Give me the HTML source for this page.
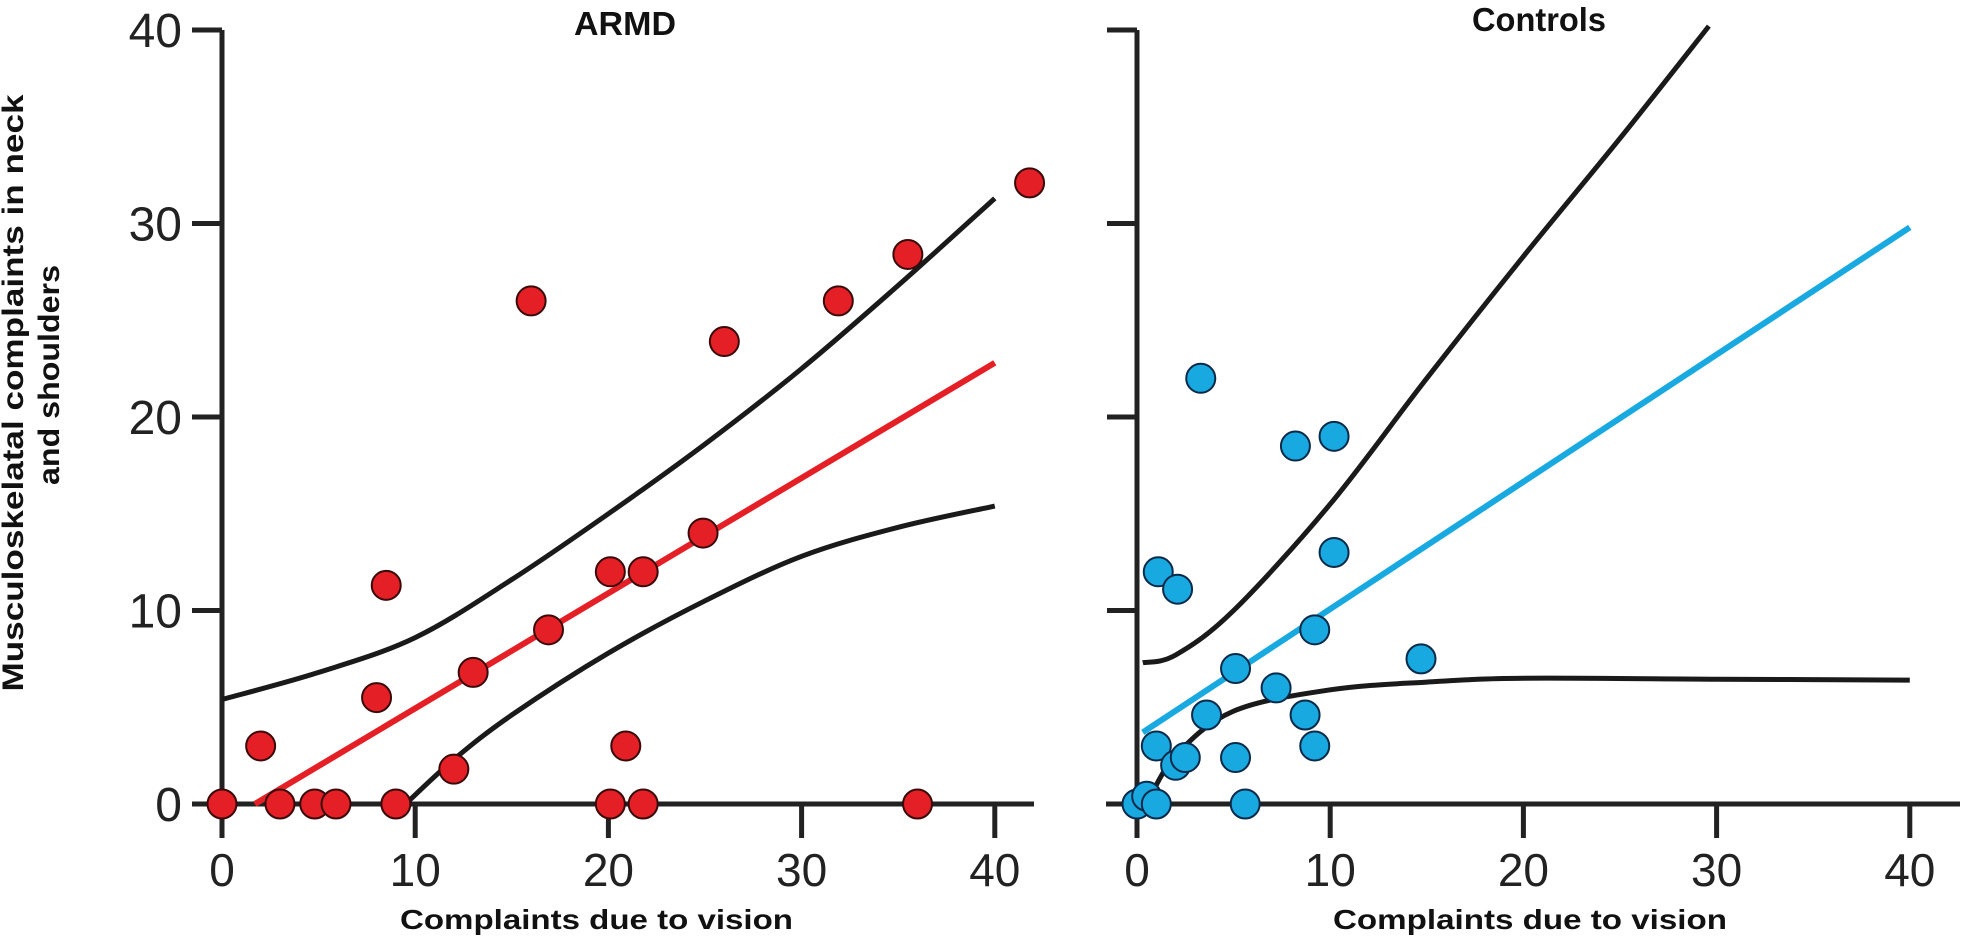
<!DOCTYPE html>
<html><head><meta charset="utf-8"><style>
html,body{margin:0;padding:0;background:#fff;}
svg{display:block;}
</style></head><body>
<svg id="chart" width="1970" height="937" viewBox="0 0 1970 937" xmlns="http://www.w3.org/2000/svg" font-family="'Liberation Sans', sans-serif">
<g font-weight="bold" font-size="30" fill="#111" text-anchor="middle">
<text transform="translate(23,393) rotate(-90)" textLength="597" lengthAdjust="spacingAndGlyphs">Musculoskelatal complaints in neck</text>
<text transform="translate(59,375) rotate(-90)" textLength="220" lengthAdjust="spacingAndGlyphs">and shoulders</text>
</g>
<g id="left"></g>
<g id="right"></g>
</svg>
<script>
// ARMD data
const armdX = [0,2,3,4.8,5.9,8,8.5,9,12,13,16,16.9,20.1,20.1,20.9,21.8,21.8,24.9,26,31.9,35.5,36,41.8];
const armdY = [0,3,0,0,0,5.5,11.3,0,1.8,6.8,26,9,12,0,3,12,0,14,23.9,26,28.4,0,32.1];
const armdFitX = [1.7,40];
const armdFitY = [0,22.8];
const armdUpperX = [0,5,10,15,20,25,30,35,40];
const armdUpperY = [5.4,6.8,8.6,11.6,15,18.6,22.5,26.8,31.3];
const armdLowerX = [9.5,12,15,20,25,30,35,40];
const armdLowerY = [0,2.3,4.6,7.8,10.5,12.8,14.3,15.4];
// Controls data
const ctrlX = [0,0.5,1,1,1.1,2.1,2,2.5,3.3,3.6,5.1,5.1,5.6,7.2,8.2,8.7,9.2,9.2,10.2,10.2,14.7];
const ctrlY = [0,0.4,0,3,12,11.1,2,2.4,22,4.6,7,2.4,0,6,18.5,4.6,3,9,13,19,7.5];
const ctrlFitX = [0.3,40];
const ctrlFitY = [3.7,29.8];
const ctrlUpperX = [0.3,2,5,10,15,20,25,29.6];
const ctrlUpperY = [7.3,7.7,10,15.5,22,28.3,34.4,40.2];
const ctrlLowerX = [0.5,2,5,10,15,20,30,40];
const ctrlLowerY = [0,2.5,4.8,5.9,6.3,6.5,6.45,6.4];
const xTicks = [0,10,20,30,40];
const yTicks = [0,10,20,30,40];

const NS='http://www.w3.org/2000/svg';
function mk(tag,attrs,parent){const e=document.createElementNS(NS,tag);for(const k in attrs)e.setAttribute(k,attrs[k]);parent.appendChild(e);return e;}
function smooth(pts){let d='M'+pts[0][0]+','+pts[0][1];for(let i=0;i<pts.length-1;i++){const p0=pts[i-1]||pts[i],p1=pts[i],p2=pts[i+1],p3=pts[i+2]||p2;const c1=[p1[0]+(p2[0]-p0[0])/6,p1[1]+(p2[1]-p0[1])/6],c2=[p2[0]-(p3[0]-p1[0])/6,p2[1]-(p3[1]-p1[1])/6];d+=' C'+c1+' '+c2+' '+p2;}return d;}

function panel(g,x0,name,title,titleX,titleW,titleY,xs,ys,fx,fy,ux,uy,lx,ly,color,stroke,xtX,xtW,axisStart,axisEnd){
  const sx=v=>x0+v*19.32, sy=v=>804-v*19.35;
  // axes
  let e=mk('line',{x1:x0,y1:30,x2:x0,y2:838,stroke:'#222','stroke-width':5},g);
  
  
  e=mk('line',{x1:axisStart,y1:804,x2:axisEnd,y2:804,stroke:'#222','stroke-width':5},g);
  
  
  yTicks.forEach(v=>{
    const t=mk('line',{x1:x0-30,y1:sy(v),x2:x0,y2:sy(v),stroke:'#222','stroke-width':5},g);
    
    
    if(name==='armd'){
      const l=mk('text',{x:x0-40,y:sy(v)+17,'font-size':48,'text-anchor':'end',fill:'#222'},g);l.textContent=v;
      
      
    }
  });
  xTicks.forEach(v=>{
    const t=mk('line',{x1:sx(v),y1:804,x2:sx(v),y2:838,stroke:'#222','stroke-width':5},g);
    
    
    const l=mk('text',{x:sx(v),y:886,'font-size':46,'text-anchor':'middle',fill:'#222'},g);l.textContent=v;
    
    
  });
  e=mk('text',{x:xtX,y:929,'font-size':28,'font-weight':'bold',fill:'#111',textLength:xtW,lengthAdjust:'spacingAndGlyphs'},g);e.textContent='Complaints due to vision';
  
  
  e=mk('text',{x:titleX,y:titleY,'font-size':33,'font-weight':'bold',fill:'#111',textLength:titleW,lengthAdjust:'spacingAndGlyphs'},g);e.textContent=title;
  
  
  // CI curves
  e=mk('path',{d:smooth(ux.map((v,i)=>[sx(v),sy(uy[i])])),fill:'none',stroke:'#1a1a1a','stroke-width':5},g);
  
  
  e=mk('path',{d:smooth(lx.map((v,i)=>[sx(v),sy(ly[i])])),fill:'none',stroke:'#1a1a1a','stroke-width':5},g);
  
  
  e=mk('line',{x1:sx(fx[0]),y1:sy(fy[0]),x2:sx(fx[1]),y2:sy(fy[1]),stroke:color,'stroke-width':6},g);
  
  
  xs.forEach((v,i)=>{
    const c=mk('circle',{cx:sx(v),cy:sy(ys[i]),r:14.5,fill:color,stroke:stroke,'stroke-width':2},g);
    
    
  });
}
panel(document.getElementById('left'),222,'armd','ARMD',574,102,35,armdX,armdY,armdFitX,armdFitY,armdUpperX,armdUpperY,armdLowerX,armdLowerY,'#e41f26','#3a0a0a',400,393,193,1034);
panel(document.getElementById('right'),1137,'controls','Controls',1472,134,31,ctrlX,ctrlY,ctrlFitX,ctrlFitY,ctrlUpperX,ctrlUpperY,ctrlLowerX,ctrlLowerY,'#19a9e1','#0a2a4a',1333,394,1106,1960);
</script>
</body></html>
